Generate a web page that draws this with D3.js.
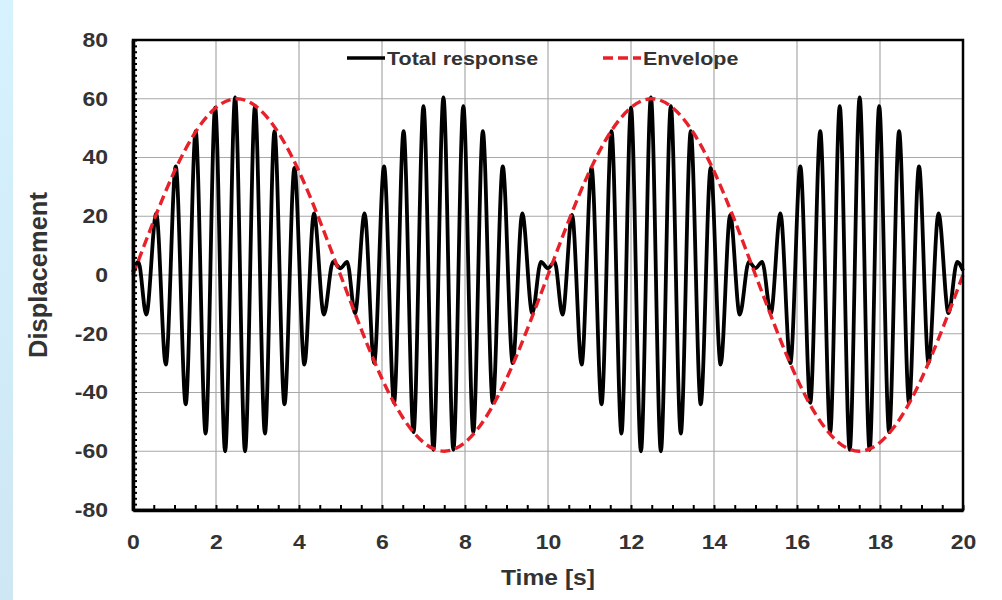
<!DOCTYPE html>
<html>
<head>
<meta charset="utf-8">
<script src="https://cdn.jsdelivr.net/npm/d3@7"></script>
<style>
  html, body { margin: 0; padding: 0; background: #fff; }
  svg { display: block; font-family: "Liberation Sans", Arial, sans-serif; }
</style>
</head>
<body>
<div id="chart"></div>
<script>
// peaks / troughs of the total response
const respTime = [
  0, 0.13, 0.32, 0.56, 0.79, 1.03, 1.27, 1.51, 1.75, 1.98, 2.22, 2.46, 2.70, 2.94, 3.18, 3.41, 3.65, 3.89, 4.13, 4.36, 4.60, 4.82,
  5.00, 5.16, 5.35, 5.58, 5.81, 6.05, 6.29, 6.52, 6.76, 7.00, 7.24, 7.48, 7.72, 7.96, 8.20, 8.43, 8.67, 8.91, 9.15, 9.38, 9.62, 9.83,
  10.00, 10.16, 10.35, 10.58, 10.81, 11.05, 11.29, 11.53, 11.77, 12.00, 12.24, 12.48, 12.72, 12.96, 13.20, 13.44, 13.68, 13.92, 14.16, 14.39, 14.62, 14.84,
  15.00, 15.16, 15.37, 15.60, 15.84, 16.08, 16.32, 16.56, 16.80, 17.03, 17.27, 17.51, 17.75, 17.98, 18.22, 18.46, 18.70, 18.94, 19.17, 19.41, 19.65, 19.86,
  20.00
];
const respValue = [
  1, 4.5, -13.5, 21, -30.5, 37, -44, 49, -54, 57, -60, 60.5, -60, 57.5, -54, 49, -44, 36.5, -30.5, 21, -13.5, 4.5,
  2.3, 4.5, -13, 21, -30, 37, -43.5, 49, -53.5, 57.5, -59.5, 60.5, -59.5, 57.5, -53.5, 49, -43.5, 37, -30, 21, -13, 4.5,
  2.3, 4.5, -13.5, 20.5, -30.5, 36.5, -44, 49, -54, 57, -60, 60.5, -60, 57.5, -54, 49, -44, 36.5, -30.5, 20.5, -13.5, 4.5,
  2.3, 4.5, -13, 21, -30, 37, -43.5, 49, -53.5, 57.5, -59.5, 60.5, -59.5, 57.5, -53.5, 49, -43.5, 37, -30, 21, -13, 4.5,
  1.5
];

// envelope read every 0.5 s
const envTime = [
  0, 0.5, 1, 1.5, 2, 2.5, 3, 3.5, 4, 4.5, 5, 5.5, 6, 6.5, 7, 7.5, 8, 8.5, 9, 9.5,
  10, 10.5, 11, 11.5, 12, 12.5, 13, 13.5, 14, 14.5, 15, 15.5, 16, 16.5, 17, 17.5, 18, 18.5, 19, 19.5, 20
];
const envValue = [
  0, 18.5, 35.3, 48.5, 57, 60, 57, 48.5, 35.3, 18.5, 0, -18.5, -35.3, -48.5, -57, -60, -57, -48.5, -35.3, -18.5,
  0, 18.5, 35.3, 48.5, 57, 60, 57, 48.5, 35.3, 18.5, 0, -18.5, -35.3, -48.5, -57, -60, -57, -48.5, -35.3, -18.5, 0
];

const xTicks = [0, 2, 4, 6, 8, 10, 12, 14, 16, 18, 20];
const yTicks = [-80, -60, -40, -20, 0, 20, 40, 60, 80];
const seriesNames = ["Total response", "Envelope"];

const width = 1002;
const height = 600;
const margin = { top: 40, right: 39, bottom: 90, left: 133 };
const labelColor = "#333";
const red = "#e8202a";

const svg = d3.select("#chart")
  .append("svg")
  .attr("width", width)
  .attr("height", height);

// light blue strip on the left edge
const grad = svg.append("defs").append("linearGradient")
  .attr("id", "strip").attr("x1", 0).attr("y1", 0).attr("x2", 0).attr("y2", 1);
grad.append("stop").attr("offset", "0%").attr("stop-color", "#d5f2fe");
grad.append("stop").attr("offset", "100%").attr("stop-color", "#cfe6f4");
svg.append("rect").attr("x", 0).attr("y", 0).attr("width", 13).attr("height", height).attr("fill", "url(#strip)");

const x = d3.scaleLinear().domain([0, 20]).range([margin.left, width - margin.right]);
const y = d3.scaleLinear().domain([-80, 80]).range([height - margin.bottom, margin.top]);

// grid
const grid = svg.append("g");
grid.selectAll(".vg")
  .data(xTicks.slice(1, -1))
  .join("line")
  .attr("x1", d => x(d)).attr("x2", d => x(d))
  .attr("y1", y(80)).attr("y2", y(-80))
  .attr("stroke", "#a8a8a8").attr("stroke-width", 1.2);
grid.selectAll(".hg")
  .data(yTicks.slice(1, -1))
  .join("line")
  .attr("x1", x(0)).attr("x2", x(20))
  .attr("y1", d => y(d)).attr("y2", d => y(d))
  .attr("stroke", "#a8a8a8").attr("stroke-width", 1.2);

// series
const envLine = d3.line()
  .x((d, i) => x(envTime[i]))
  .y(d => y(d))
  .curve(d3.curveNatural);

const respLine = d3.line()
  .x((d, i) => x(respTime[i]))
  .y(d => y(d))
  .curve(d3.curveMonotoneX);

svg.append("path")
  .attr("d", respLine(respValue))
  .attr("fill", "none")
  .attr("stroke", "#000")
  .attr("stroke-width", 3.8)
  .attr("stroke-linejoin", "round");

svg.append("path")
  .attr("d", envLine(envValue))
  .attr("fill", "none")
  .attr("stroke", red)
  .attr("stroke-width", 3.4)
  .attr("stroke-dasharray", "10,5");

// frame
svg.append("rect")
  .attr("x", x(0)).attr("y", y(80))
  .attr("width", x(20) - x(0)).attr("height", y(-80) - y(80))
  .attr("fill", "none").attr("stroke", "#000").attr("stroke-width", 2.5);

// minor ticks, pointing inward
const axes = svg.append("g");
axes.append("g")
  .attr("transform", `translate(0,${y(-80)})`)
  .call(d3.axisBottom(x).tickValues(d3.range(0, 20.01, 0.5)).tickSizeInner(-5).tickSizeOuter(0).tickFormat(""))
  .call(g => g.select(".domain").attr("stroke-width", 3.5))
  .call(g => g.selectAll(".tick line").attr("stroke-width", 2));

axes.append("g")
  .attr("transform", `translate(${x(0)},0)`)
  .call(d3.axisLeft(y).tickValues(d3.range(-80, 80.01, 2)).tickSizeInner(-4).tickSizeOuter(0).tickFormat(""))
  .call(g => g.select(".domain").attr("stroke-width", 3.5))
  .call(g => g.selectAll(".tick line").attr("stroke-width", 2));

// tick labels (slightly wide lettering like the picture, plain hyphen minus)
const plain = d => String(d);

axes.append("g")
  .attr("transform", `translate(0,${y(-80)})`)
  .call(d3.axisBottom(x).tickValues(xTicks).tickSize(0).tickPadding(25).tickFormat(plain))
  .call(g => g.select(".domain").remove())
  .call(g => g.selectAll("text")
    .attr("font-family", "Liberation Sans, Arial, sans-serif")
    .attr("font-size", "20px").attr("font-weight", "bold").attr("fill", labelColor)
    .attr("transform", "scale(1.15,1)"));

axes.append("g")
  .attr("transform", `translate(${x(0)},0)`)
  .call(d3.axisLeft(y).tickValues(yTicks).tickSize(0).tickPadding(21.7).tickFormat(plain))
  .call(g => g.select(".domain").remove())
  .call(g => g.selectAll("text")
    .attr("font-family", "Liberation Sans, Arial, sans-serif")
    .attr("font-size", "20px").attr("font-weight", "bold").attr("fill", labelColor)
    .attr("transform", "scale(1.15,1)"));

// axis titles
svg.append("text")
  .attr("transform", `translate(${(x(0) + x(20)) / 2},577) scale(1.12,1)`)
  .attr("dy", "0.35em")
  .attr("text-anchor", "middle")
  .attr("font-size", "22px").attr("font-weight", "bold").attr("fill", labelColor)
  .text("Time [s]");

svg.append("text")
  .attr("transform", `translate(38,${y(0)}) rotate(-90)`)
  .attr("dy", "0.35em")
  .attr("text-anchor", "middle")
  .attr("font-size", "25.5px").attr("font-weight", "bold").attr("fill", labelColor)
  .text("Displacement");

// legend
const legend = svg.append("g").attr("transform", "translate(0,58)");
const legendX = [347, 603];
legend.selectAll("line")
  .data(seriesNames)
  .join("line")
  .attr("x1", (d, i) => legendX[i]).attr("x2", (d, i) => legendX[i] + 38)
  .attr("y1", 0).attr("y2", 0)
  .attr("stroke", (d, i) => i === 0 ? "#000" : red)
  .attr("stroke-width", 3.4)
  .attr("stroke-dasharray", (d, i) => i === 0 ? null : "10,5");
legend.selectAll("text")
  .data(seriesNames)
  .join("text")
  .attr("transform", (d, i) => `translate(${legendX[i] + 40},0) scale(1.13,1)`)
  .attr("dy", "0.35em")
  .attr("font-size", "19px").attr("font-weight", "bold").attr("fill", labelColor)
  .text(d => d);
</script>
</body>
</html>
